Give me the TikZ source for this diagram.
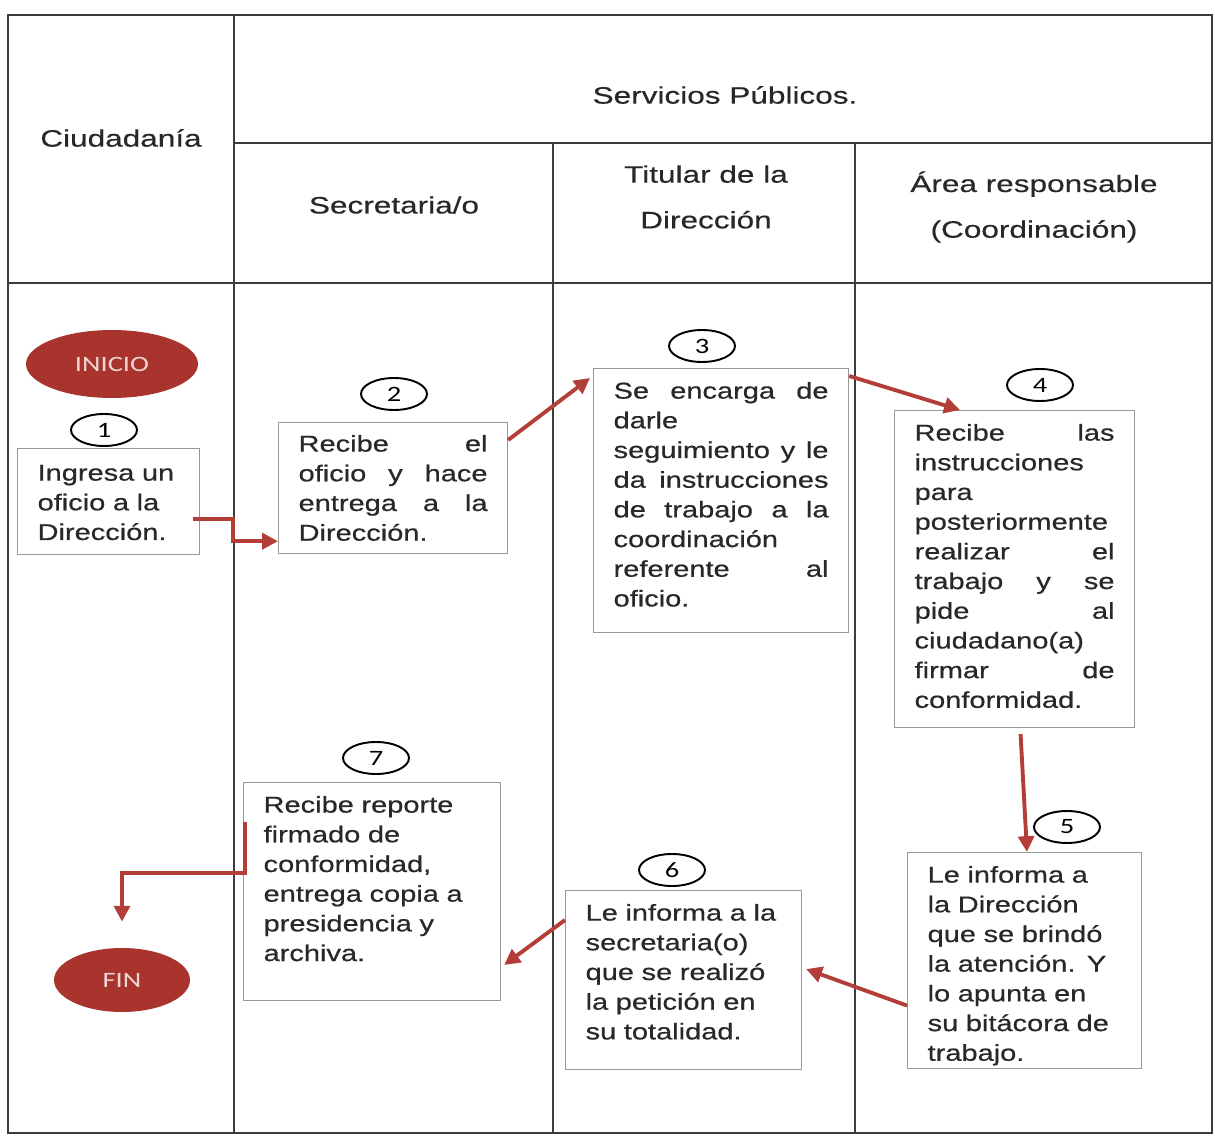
\documentclass[tikz,border=0pt]{standalone}
\usepackage{fontspec}
\setmainfont{Liberation Sans}[FakeStretch=1.27, FakeBold=0.6]
\newfontfamily\headfont{Liberation Sans}[FakeStretch=1.33, FakeBold=0.4]
\newfontfamily\calfont{Carlito}[FakeStretch=1.3]
\usepackage{xcolor}
\usepackage{tikz}
\usetikzlibrary{positioning, arrows.meta, shapes.geometric}
\definecolor{rojo}{RGB}{168,52,45}
\definecolor{flechar}{RGB}{178,62,55}
\definecolor{linea}{RGB}{60,60,60}
\definecolor{texto}{RGB}{40,40,40}

\begin{document}
\begin{tikzpicture}[x=0.02cm, y=-0.02cm,
  paso/.style={draw=gray!80, line width=0.7pt, anchor=north west, inner xsep=0.4cm, inner ysep=0pt,
    align=left, text=texto, font=\fontsize{13}{16.9}\selectfont},
  num/.style={ellipse, draw=black, line width=1.1pt, minimum width=1.32cm, minimum height=0.64cm,
    inner sep=0pt, font=\calfont\fontsize{12.5}{14}\selectfont},
  term/.style={ellipse, fill=rojo, text=rojo!20, inner sep=0pt, font=\calfont\fontsize{12.5}{14}\selectfont},
  cab/.style={align=center, text=texto, font=\headfont\fontsize{13.5}{26}\selectfont},
  flecha/.style={draw=flechar, line width=2.2pt, -{Triangle[length=9pt, width=9pt]}}]
  \useasboundingbox (0,0) rectangle (1215,1142);
  % Tabla
  \draw[linea, line width=1.5pt] (8,15) rectangle (1212,1133);
  \draw[linea, line width=1.5pt] (234,15) -- (234,1133);
  \draw[linea, line width=1.5pt] (234,143) -- (1212,143);
  \draw[linea, line width=1.5pt] (8,283) -- (1212,283);
  \draw[linea, line width=1.5pt] (553,143) -- (553,1133);
  \draw[linea, line width=1.5pt] (855,143) -- (855,1133);
  % Encabezados
  \node[cab] (ciud) at (121,138) {Ciudadanía};
  \node[cab] (serv) at (725,95) {Servicios Públicos.};
  \node[cab] (secr) at (394,205) {Secretaria/o};
  \node[cab] (titu) at (706,197) {Titular de la\\ Dirección};
  \node[cab] (area) at (1034,207) {Área responsable\\ (Coordinación)};
  % Inicio y fin
  \node[term, minimum width=3.44cm, minimum height=1.36cm] (inicio) at (112,364) {INICIO};
  \node[term, minimum width=2.72cm, minimum height=1.28cm] (fin) at (122,980) {FIN};
  % Pasos
  \node[paso, text width=2.84cm, text height=0.64cm, text depth=1.48cm] (b1) at (17,448)
    {Ingresa un\\ oficio a la\\ Dirección.};
  \node[paso, text width=3.78cm, text height=0.58cm, text depth=2.04cm] (b2) at (278,422)
    {Recibe\hfill el\\ oficio\hfill y\hfill hace\\ entrega\hfill a\hfill la\\ Dirección.};
  \node[paso, text width=4.30cm, text height=0.6cm, text depth=4.68cm] (b3) at (593,368)
    {Se\hfill encarga\hfill de\\ darle\\ seguimiento\hfill y\hfill le\\ da\hfill instrucciones\\
     de\hfill trabajo\hfill a\hfill la\\ coordinación\\ referente\hfill al\\ oficio.};
  \node[paso, text width=4.0cm, text height=0.6cm, text depth=5.74cm] (b4) at (894,410)
    {Recibe\hfill las\\ instrucciones\\ para\\ posteriormente\\ realizar\hfill el\\
     trabajo\hfill y\hfill se\\ pide\hfill al\\ ciudadano(a)\\ firmar\hfill de\\ conformidad.};
  \node[paso, text width=3.88cm, text height=0.6cm, text depth=3.72cm] (b5) at (907,852)
    {Le informa a\\ la Dirección\\ que se brindó\\ la atención. Y\\ lo apunta en\\ su bitácora de\\ trabajo.};
  \node[paso, text width=3.92cm, text height=0.6cm, text depth=2.98cm] (b6) at (565,890)
    {Le informa a la\\ secretaria(o)\\ que se realizó\\ la petición en\\ su totalidad.};
  \node[paso, text width=4.34cm, text height=0.6cm, text depth=3.76cm] (b7) at (243,782)
    {Recibe reporte\\ firmado de\\ conformidad,\\ entrega copia a\\ presidencia y\\ archiva.};
  % Numeros
  \node[num] (n1) at (104,430) {1};
  \node[num] (n2) at (394,394) {2};
  \node[num] (n3) at (702,346) {3};
  \node[num] (n4) at (1040,385) {4};
  \node[num] (n5) at (1067,827) {5};
  \node[num] (n6) at (672,870) {6};
  \node[num] (n7) at (376,758) {7};
  % Flechas
  \draw[flecha] ([shift={(-0.14cm,-0.35cm)}]b1.east) -- ++(0.8cm,0) |- ([yshift=0.26cm]b2.south west);
  \draw[flecha] ([yshift=-0.36cm]b2.north east) -- ([shift={(-0.06cm,-0.2cm)}]b3.north west);
  \draw[flecha] ([yshift=-0.16cm]b3.north east) -- ([xshift=1.32cm]b4.north west);
  \draw[flecha] ([shift={(0.12cm,-0.12cm)}]b4.south) -- ([xshift=2.4cm]b5.north west);
  \draw[flecha] ([yshift=-0.9cm]b5.west) -- ([shift={(0.08cm,0.22cm)}]b6.east);
  \draw[flecha] ([yshift=-0.6cm]b6.north west) -- ([shift={(0.06cm,-3.66cm)}]b7.north east);
  \draw[flecha, shorten >=0.52cm] ([shift={(0.04cm,-0.8cm)}]b7.north west) -- ++(0,-1.02cm) -| (fin.north);
\end{tikzpicture}
\end{document}
